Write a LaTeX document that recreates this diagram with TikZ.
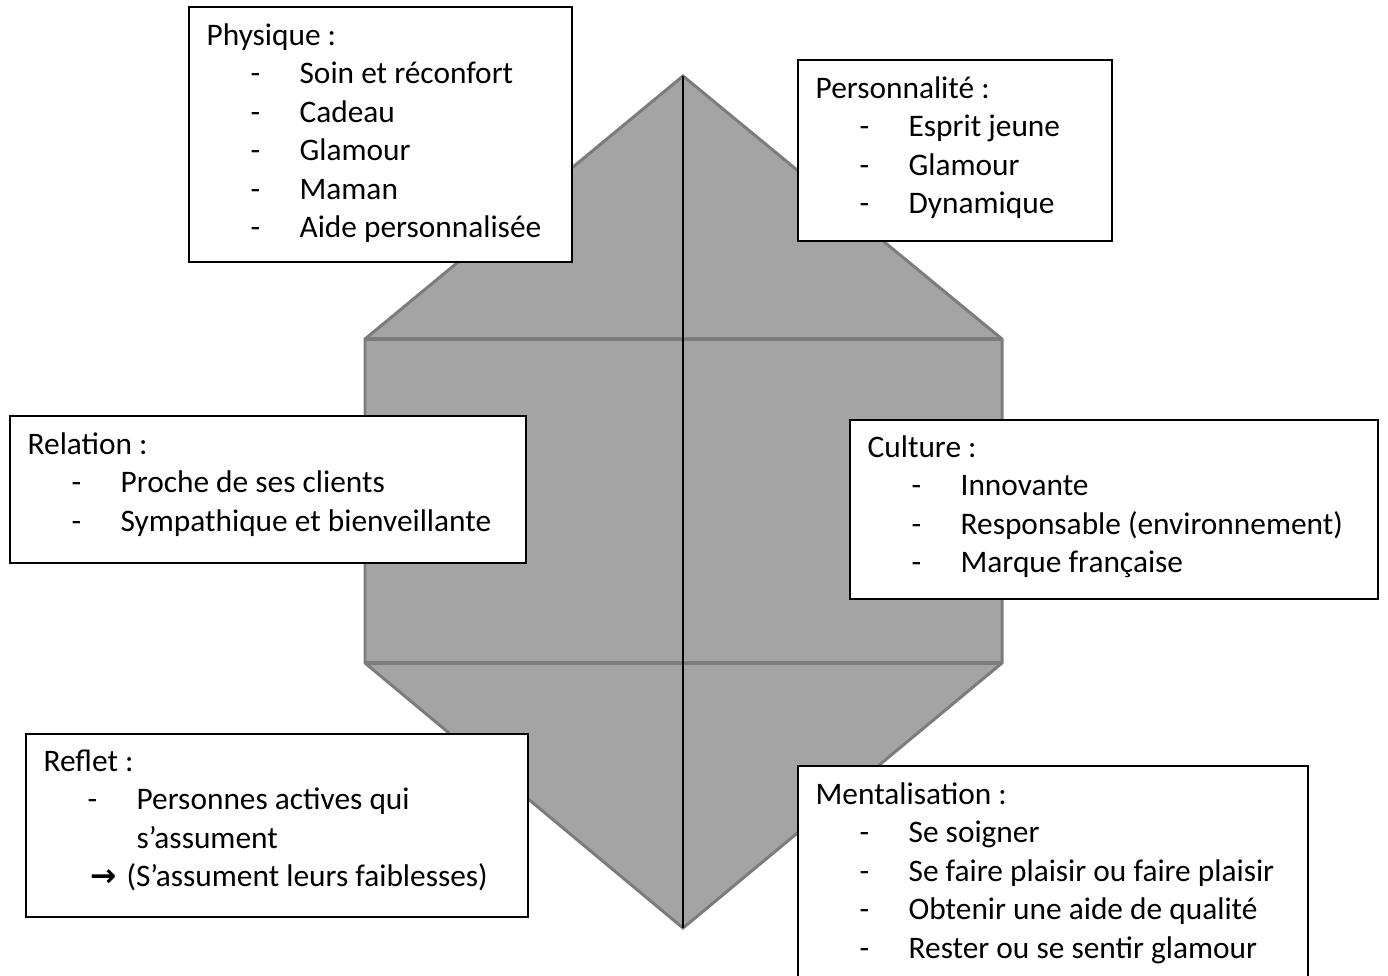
\documentclass[tikz,border=0pt]{standalone}
\usepackage{fontspec}
\setmainfont{Carlito}
\newfontfamily\flechefont{DejaVu Sans}
\usetikzlibrary{fit}
\definecolor{prisme}{RGB}{164,164,164}
\definecolor{bord}{RGB}{124,124,124}
\newcommand{\puce}[1]{\hspace*{0.88cm}\makebox[0.98cm][l]{-}#1}

\begin{document}
\begin{tikzpicture}[x=0.02cm,y=-0.02cm,
  boite/.style={draw=black,fill=white,line width=0.8pt,inner sep=0pt},
  texte/.style={anchor=base west,inner sep=0pt,text width=12cm,align=flush left,
    font=\fontsize{17.85}{21.9}\selectfont}]
\useasboundingbox (0,0) rectangle (1388,975);
\clip (0,0) rectangle (1388,975);
\coordinate (haut) at (683,76);
\coordinate (hg) at (365,339);
\coordinate (hd) at (1002,339);
\coordinate (bg) at (365,663);
\coordinate (bd) at (1002,663);
\coordinate (bas) at (683,928);
\draw [bord,fill=prisme,line width=1.7pt] (haut) -- (hd) -- (bd) -- (bas) -- (bg) -- (hg) -- cycle;
\draw [bord,line width=2.5pt] (hg) -- (hd);
\draw [bord,line width=2.5pt] (bg) -- (bd);
\draw [black,line width=0.9pt] (haut) -- (bas);

\node [boite,fit={(189,7) (572,262)}] (physique) {};
\node [texte] (physique-t) at ([shift={(18,39)}]physique.north west) {Physique :\\
\puce{Soin et réconfort}\\
\puce{Cadeau}\\
\puce{Glamour}\\
\puce{Maman}\\
\puce{Aide personnalisée}};

\node [boite,fit={(798,60) (1112,241)}] (perso) {};
\node [texte] (perso-t) at ([shift={(18,39)}]perso.north west) {Personnalité :\\
\puce{Esprit jeune}\\
\puce{Glamour}\\
\puce{Dynamique}};

\node [boite,fit={(10,416) (526,563)}] (relation) {};
\node [texte] (relation-t) at ([shift={(18,39)}]relation.north west) {Relation :\\
\puce{Proche de ses clients}\\
\puce{Sympathique et bienveillante}};

\node [boite,fit={(850,420) (1378,599)}] (culture) {};
\node [texte] (culture-t) at ([shift={(18,38)}]culture.north west) {Culture :\\
\puce{Innovante}\\
\puce{Responsable (environnement)}\\
\puce{Marque française}};

\node [boite,fit={(26,734) (528,917)}] (reflet) {};
\node [texte] (reflet-t) at ([shift={(18,38)}]reflet.north west) {Reflet :\\
\puce{Personnes actives qui}\\
\hspace*{1.86cm}s’assument\\
\hspace*{0.94cm}\makebox[0.72cm][l]{\flechefont\bfseries →}(S’assument leurs faiblesses)};

\node [boite,fit={(798,766) (1308,995)}] (mental) {};
\node [texte] (mental-t) at ([shift={(18,39)}]mental.north west) {Mentalisation :\\
\puce{Se soigner}\\
\puce{Se faire plaisir ou faire plaisir}\\
\puce{Obtenir une aide de qualité}\\
\puce{Rester ou se sentir glamour}};
\end{tikzpicture}
\end{document}
